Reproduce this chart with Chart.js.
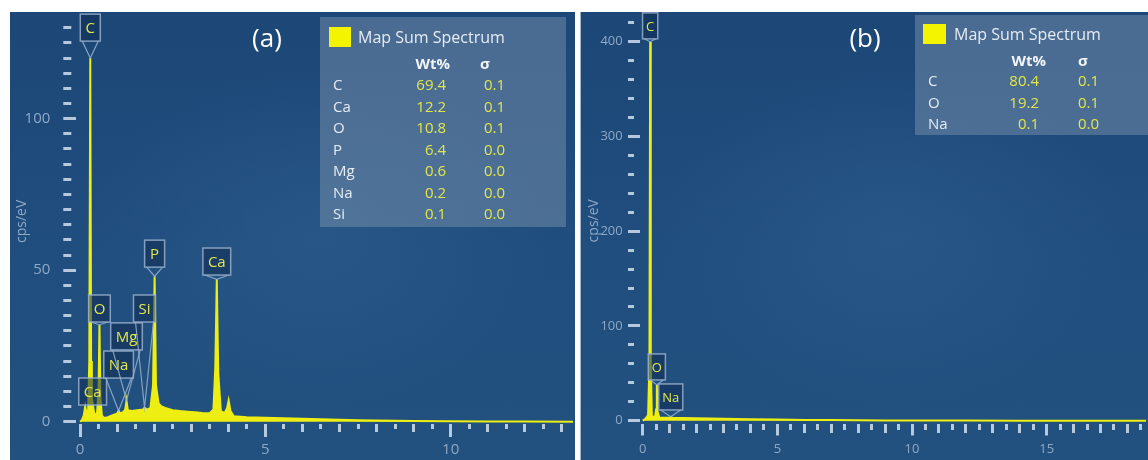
<!DOCTYPE html>
<html>
<head>
<meta charset="utf-8">
<script src="https://cdn.jsdelivr.net/npm/chart.js@4/dist/chart.umd.min.js"></script>
<style>
  html, body { margin: 0; padding: 0; background: #ffffff; }
  body { width: 1148px; height: 460px; position: relative; overflow: hidden; }
  .panel {
    position: absolute; top: 12px; height: 448px;
    background:
      radial-gradient(ellipse 55% 50% at 55% 50%, rgba(70, 120, 170, 0.22), rgba(0, 0, 0, 0) 75%),
      linear-gradient(180deg, #1c4777 0%, #204e7e 55%, #22517f 100%);
  }
  #panelA { left: 10px; width: 565px; }
  #panelB { left: 580px; width: 568px; border-left: 1px solid #9fb4cc; box-sizing: border-box; }
  canvas { position: absolute; left: 0; top: 0; }
</style>
</head>
<body>
<div class="panel" id="panelA"><canvas id="chartA" width="565" height="448"></canvas></div>
<div class="panel" id="panelB"><canvas id="chartB" width="568" height="448"></canvas></div>
<script>
// ---- spectrum (a): energy in keV, intensity in cps/eV ----
const energyA = [0, 0.05, 0.10, 0.14, 0.18, 0.22, 0.25, 0.277, 0.30, 0.32,
    0.341, 0.38, 0.42, 0.46, 0.50, 0.525, 0.55, 0.59, 0.65, 0.75,
    0.85, 0.95, 1.00, 1.041, 1.08, 1.15, 1.22, 1.254, 1.29, 1.40,
    1.55, 1.70, 1.74, 1.80, 1.90, 1.97, 2.013, 2.05, 2.12, 2.20,
    2.30, 2.50, 2.70, 2.90, 3.10, 3.30, 3.50, 3.60, 3.65, 3.69,
    3.73, 3.80, 3.90, 3.97, 4.01, 4.06, 4.15, 4.50, 5.00, 5.50,
    6.00, 6.50, 7.00, 7.50, 8.00, 9.00, 10.00, 11.00, 12.00, 13.30];
const countsA = [0, 0.5, 2, 5, 2.5, 4, 20, 120, 20, 4,
    6, 3, 2, 3, 10, 32, 8, 2, 1.2, 1.5,
    2, 2.5, 2.6, 3.6, 2.8, 3, 4, 7, 3.8, 3.5,
    3.8, 4, 4.6, 4, 4.5, 12, 48, 12, 6, 5,
    4.5, 3.8, 3.5, 3.3, 3.1, 2.9, 2.8, 4, 18, 47,
    16, 3.5, 2.8, 4.5, 7, 3.5, 1.8, 1.5, 1.3, 1.1,
    1.0, 0.8, 0.6, 0.45, 0.35, 0.2, 0.1, 0.05, 0.03, 0];

// ---- spectrum (b) ----
const energyB = [0, 0.10, 0.20, 0.25, 0.277, 0.30, 0.34, 0.45, 0.50, 0.525,
    0.55, 0.62, 0.80, 1.00, 1.041, 1.10, 1.50, 2.00, 2.50, 3.00,
    4.00, 5.00, 6.00, 7.00, 8.00, 9.00, 10.00, 12.00, 14.00, 18.70];
const countsB = [0, 2, 6, 60, 400, 60, 5, 3, 12, 38,
    10, 3, 3, 3, 4, 3, 2.8, 2.5, 2.2, 2,
    1.5, 1.1, 0.8, 0.6, 0.4, 0.25, 0.12, 0.05, 0, 0];

// peak identification labels
const peaksA = ['C', 'O', 'Ca', 'Na', 'Mg', 'Si', 'P', 'Ca'];
const peakEnergyA = [0.277, 0.525, 0.341, 1.041, 1.254, 1.74, 2.013, 3.69];
const peaksB = ['C', 'O', 'Na'];
const peakEnergyB = [0.277, 0.525, 1.041];

// quantification tables
const elementsA = ['C', 'Ca', 'O', 'P', 'Mg', 'Na', 'Si'];
const wtA = ['69.4', '12.2', '10.8', '6.4', '0.6', '0.2', '0.1'];
const sigmaA = ['0.1', '0.1', '0.1', '0.0', '0.0', '0.0', '0.0'];
const elementsB = ['C', 'O', 'Na'];
const wtB = ['80.4', '19.2', '0.1'];
const sigmaB = ['0.1', '0.1', '0.0'];

// labelled ticks
const xLabelsA = [0, 5, 10];
const yLabelsA = [0, 50, 100];
const xLabelsB = [0, 5, 10, 15];
const yLabelsB = [0, 100, 200, 300, 400];

// layout of the label boxes (box bottom, in cps/eV)
const labelLevelA = [125.6, 32.9, 5.5, 14.4, 23.7, 32.9, 51, 48.4];
const labelLevelB = [403, 43, 11.3];

const YELLOW = '#eeee12';
const TICK_COLOR = 'rgba(200, 214, 232, 0.9)';
const LABEL_COLOR = '#8fa8c6';
const FONT = '"Open Sans", "Noto Sans", sans-serif';

// axes keep no extra room for tick labels: chart area = layout padding
function noScalePadding(s) {
    s.paddingTop = 0;
    s.paddingBottom = 0;
    s.paddingLeft = 0;
    s.paddingRight = 0;
}

function overlay(p) {
    return {
        id: 'overlay',
        afterDatasetsDraw(chart) {
            const { ctx, scales: { x, y } } = chart;
            ctx.save();
            ctx.font = p.peakFont;
            ctx.textAlign = 'center';
            ctx.textBaseline = 'middle';
            p.peaks.forEach((name, i) => {
                const e = p.peakEnergy[i];
                const idx = p.energy.indexOf(e);
                const px = x.getPixelForValue(e);
                const py = y.getPixelForValue(p.counts[idx]);
                const bottom = y.getPixelForValue(p.levels[i]);
                const w = Math.max(ctx.measureText(name).width + p.boxPad, p.minBox);
                const h = p.boxH;
                const left = px - w / 2;
                ctx.strokeStyle = 'rgba(150, 175, 205, 0.85)';
                ctx.lineWidth = 1.2;
                if (py > bottom + 1) {
                    ctx.beginPath();
                    ctx.moveTo(left + 2, bottom);
                    ctx.lineTo(px, py);
                    ctx.lineTo(left + w - 2, bottom);
                    ctx.stroke();
                }
                ctx.fillStyle = 'rgba(16, 44, 80, 0.55)';
                ctx.fillRect(left, bottom - h, w, h);
                ctx.lineWidth = 1.5;
                ctx.strokeRect(left, bottom - h, w, h);
                ctx.fillStyle = '#e4e84c';
                ctx.fillText(name, px, bottom - h / 2 + 1);
            });
            ctx.restore();
        },
        afterDraw(chart) {
            const ctx = chart.ctx;
            const L = p.legend;
            ctx.save();
            // panel letter
            ctx.fillStyle = '#ffffff';
            ctx.font = '26px ' + FONT;
            ctx.textAlign = 'center';
            ctx.textBaseline = 'middle';
            ctx.fillText(p.letter, p.letterX, p.letterY);
            // quant table
            ctx.fillStyle = 'rgba(125, 148, 175, 0.48)';
            ctx.fillRect(L.x, L.y, L.w, L.h);
            ctx.fillStyle = '#f4f400';
            ctx.fillRect(L.sqX, L.sqY, L.sqW, L.sqH);
            ctx.fillStyle = '#e6ecf3';
            ctx.font = '16px ' + FONT;
            ctx.textAlign = 'left';
            ctx.fillText('Map Sum Spectrum', L.titleX, L.titleY);
            ctx.font = 'bold 15px ' + FONT;
            ctx.fillStyle = '#f2f5f8';
            ctx.textAlign = 'right';
            ctx.fillText('Wt%', L.wtHead, L.headY);
            ctx.textAlign = 'center';
            ctx.fillText('σ', L.sigHead, L.headY);
            ctx.font = '15px ' + FONT;
            p.elements.forEach((el, i) => {
                const ry = L.rowY + i * L.rowStep;
                ctx.textAlign = 'left';
                ctx.fillStyle = '#e6ecf3';
                ctx.fillText(el, L.nameX, ry);
                ctx.textAlign = 'right';
                ctx.fillStyle = '#e2e64a';
                ctx.fillText(p.wt[i], L.wtX, ry);
                ctx.fillText(p.sigma[i], L.sigX, ry);
            });
            ctx.restore();
        }
    };
}

function makeChart(canvasId, o) {
    return new Chart(document.getElementById(canvasId), {
        type: 'line',
        data: {
            datasets: [{
                data: o.energy.map((e, i) => ({ x: e, y: o.counts[i] })),
                borderColor: YELLOW,
                backgroundColor: YELLOW,
                borderWidth: 2,
                fill: 'origin',
                pointRadius: 0,
                tension: 0
            }]
        },
        options: {
            responsive: false,
            animation: false,
            layout: { padding: { top: o.padTop, right: o.padRight, left: 0, bottom: 0 } },
            plugins: { legend: { display: false }, tooltip: { enabled: false } },
            scales: {
                x: {
                    type: 'linear',
                    min: o.xMin, max: o.xMax,
                    afterFit: (s) => { s.height = o.xAxisH; noScalePadding(s); },
                    border: { display: false },
                    grid: {
                        drawOnChartArea: false,
                        tickLength: o.xTickLen,
                        tickWidth: 3,
                        tickColor: TICK_COLOR,
                        tickBorderDash: (c) => {
                            const v = c.tick.value;
                            const len = v % 5 === 0 ? o.xMarks[0] : (Number.isInteger(v) ? o.xMarks[1] : o.xMarks[2]);
                            return [len, 100];
                        }
                    },
                    ticks: {
                        stepSize: 0.5,
                        includeBounds: false,
                        autoSkip: false,
                        maxRotation: 0,
                        padding: o.xPad,
                        color: LABEL_COLOR,
                        font: { family: FONT, size: o.tickFont },
                        callback: (v) => o.xLabels.includes(v) ? String(v) : ''
                    }
                },
                y: {
                    type: 'linear',
                    min: o.yMin, max: o.yMax,
                    afterFit: (s) => { s.width = o.yAxisW; noScalePadding(s); },
                    border: { display: false },
                    grid: {
                        drawOnChartArea: false,
                        tickLength: o.yTickLen,
                        tickWidth: 3,
                        tickColor: TICK_COLOR,
                        tickBorderDash: (c) => {
                            const v = c.tick.value;
                            const len = o.yLabels.includes(v) ? o.yMarks[0] : o.yMarks[1];
                            return [0, o.yGap, len, 100];
                        }
                    },
                    ticks: {
                        stepSize: o.yStep,
                        includeBounds: false,
                        autoSkip: false,
                        padding: o.yPad,
                        color: LABEL_COLOR,
                        font: { family: FONT, size: o.tickFont },
                        callback: (v) => o.yLabels.includes(v) ? String(v) : ''
                    },
                    title: {
                        display: true,
                        text: 'cps/eV',
                        color: LABEL_COLOR,
                        font: { family: FONT, size: 14 },
                        padding: { top: o.titlePad, bottom: 0 }
                    }
                }
            }
        },
        plugins: [overlay(o)]
    });
}

makeChart('chartA', {
    energy: energyA, counts: countsA,
    xMin: -0.1, xMax: 13.3, yMin: -0.8, yMax: 133, yStep: 5,
    padTop: 6.7, padRight: 2, xAxisH: 35.9, yAxisW: 66.3,
    xTickLen: 14, xMarks: [13, 8, 5], xPad: 2.5,
    yTickLen: 21, yGap: 8, yMarks: [13, 8], yPad: 5,
    tickFont: 15, titlePad: 4,
    xLabels: xLabelsA, yLabels: yLabelsA,
    peaks: peaksA, peakEnergy: peakEnergyA, levels: labelLevelA,
    peakFont: '15px ' + FONT, boxPad: 10, minBox: 20, boxH: 27,
    letter: '(a)', letterX: 257, letterY: 28,
    elements: elementsA, wt: wtA, sigma: sigmaA,
    legend: {
        x: 310, y: 5, w: 246, h: 210,
        sqX: 319, sqY: 15, sqW: 22, sqH: 20,
        titleX: 348, titleY: 26,
        wtHead: 440, sigHead: 475, headY: 53,
        nameX: 323, wtX: 436, sigX: 495, rowY: 74, rowStep: 21.5
    }
});

makeChart('chartB', {
    energy: energyB, counts: countsB,
    xMin: -0.1, xMax: 18.7, yMin: -3, yMax: 425, yStep: 20,
    padTop: 6, padRight: 2.7, xAxisH: 36.5, yAxisW: 59,
    xTickLen: 12, xMarks: [12, 9, 6], xPad: 6,
    yTickLen: 14, yGap: 2, yMarks: [12, 6], yPad: 3.3,
    tickFont: 13, titlePad: 5,
    xLabels: xLabelsB, yLabels: yLabelsB,
    peaks: peaksB, peakEnergy: peakEnergyB, levels: labelLevelB,
    peakFont: '13px ' + FONT, boxPad: 7, minBox: 14, boxH: 26,
    letter: '(b)', letterX: 284, letterY: 28,
    elements: elementsB, wt: wtB, sigma: sigmaB,
    legend: {
        x: 334, y: 3, w: 234, h: 120,
        sqX: 342, sqY: 12, sqW: 23, sqH: 20,
        titleX: 373, titleY: 23,
        wtHead: 465, sigHead: 502, headY: 50,
        nameX: 347, wtX: 458, sigX: 518, rowY: 70, rowStep: 21.5
    }
});
</script>
</body>
</html>
